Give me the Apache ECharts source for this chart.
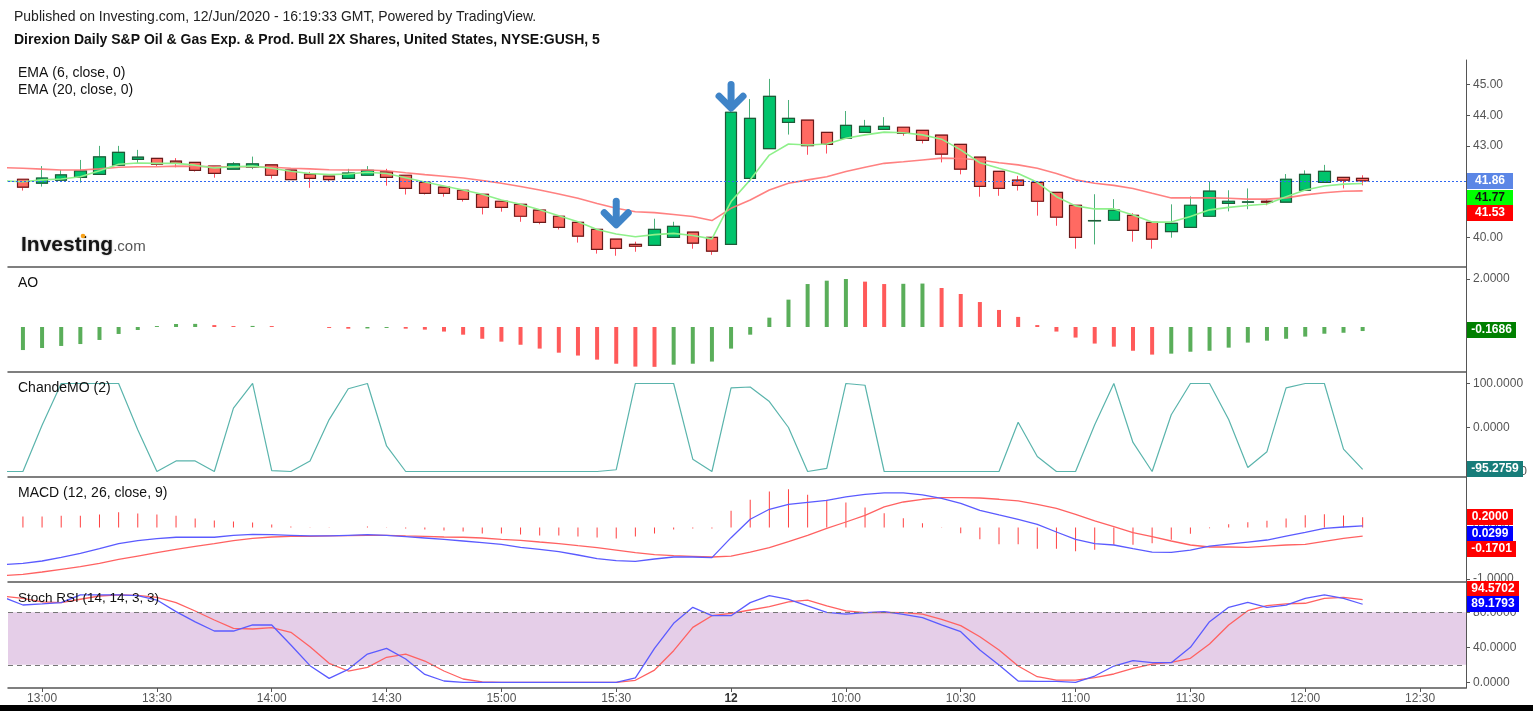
<!DOCTYPE html>
<html><head><meta charset="utf-8">
<script src="https://cdn.jsdelivr.net/npm/echarts@6/dist/echarts.min.js"></script>
<style>html,body{margin:0;padding:0;background:#fff}#c{width:1533px;height:711px}</style>
</head><body><div id="c"></div>
<script>
// ---------- DATA ----------
// bar index 0 = 11 Jun 12:55, 36 = 15:55, 37 = 12 Jun 09:30, 70 = 12:15 (5-minute bars)
const tickIdx    = [1, 7, 13, 19, 25, 31, 37, 43, 49, 55, 61, 67, 73];
const tickLabels = ['13:00','13:30','14:00','14:30','15:00','15:30','12','10:00','10:30','11:00','11:30','12:00','12:30'];

const open  = [41.91,41.78,41.88,41.97,42.07,42.37,42.56,42.59,42.50,42.46,42.34,42.24,42.30,42.38,42.21,42.08,42.01,41.94,42.04,42.15,
               42.04,41.81,41.65,41.55,41.42,41.19,41.09,40.90,40.70,40.50,40.27,39.95,39.78,39.75,40.01,40.18,40.01,39.78,41.94,42.91,
               43.77,43.84,43.44,43.25,43.44,43.54,43.61,43.51,43.35,43.05,42.63,42.17,41.88,41.81,41.48,41.06,40.55,40.57,40.73,40.50,
               40.20,40.34,40.70,41.12,41.16,41.19,41.16,41.55,41.81,41.97,41.94];
const close = [41.65,41.95,42.05,42.18,42.64,42.79,42.63,42.40,42.43,42.20,42.10,42.41,42.41,42.04,41.90,41.94,41.90,42.11,42.20,41.97,
               41.61,41.45,41.45,41.25,40.99,40.99,40.70,40.50,40.34,40.05,39.62,39.65,39.72,40.27,40.37,39.82,39.56,44.10,43.90,44.62,
               43.90,43.01,43.05,43.67,43.64,43.64,43.41,43.18,42.73,42.24,41.68,41.61,41.71,41.19,40.67,40.01,40.56,40.90,40.24,39.95,
               40.47,41.06,41.52,41.19,41.17,41.16,41.91,42.07,42.17,41.88,41.86];
const low   = [41.54,41.67,41.88,41.80,42.07,42.37,42.43,42.34,42.30,42.16,41.96,42.24,42.24,41.93,41.90,41.63,41.83,41.94,42.04,41.70,
               41.41,41.41,41.34,41.18,40.76,40.85,40.52,40.44,40.27,39.84,39.48,39.41,39.54,39.75,40.01,39.64,39.44,39.78,41.94,42.91,
               43.37,42.71,42.75,43.25,43.44,43.54,43.33,43.08,42.46,42.07,41.34,41.37,41.54,40.72,40.39,39.64,39.78,40.57,39.87,39.64,
               40.00,40.34,40.70,40.86,40.93,41.06,41.16,41.55,41.81,41.61,41.71];
const high  = [41.91,42.34,42.21,42.54,43.00,43.00,42.87,42.59,42.60,42.46,42.34,42.47,42.65,42.38,42.21,42.15,42.01,42.25,42.34,42.25,
               42.04,41.81,41.65,41.55,41.42,41.19,41.09,40.90,40.70,40.50,40.27,39.95,39.87,40.62,40.52,40.18,40.01,44.95,44.53,45.19,
               44.50,43.84,43.44,44.14,43.85,43.94,43.61,43.51,43.35,43.05,42.63,42.17,42.02,41.81,41.48,41.06,41.42,41.26,40.80,40.50,
               41.09,41.35,41.83,41.55,41.61,41.25,42.08,42.20,42.38,41.97,42.04];

// indicator lines: first value is bar index -1 (left edge of the plot)
const lineStart = -1;
const ema6  = [41.86,
  41.83,41.89,41.92,41.99,42.19,42.40,42.44,42.43,42.43,42.37,42.28,42.32,42.34,42.27,42.17,42.10,42.06,42.08,42.14,42.10,
  41.96,41.82,41.69,41.56,41.42,41.23,41.09,40.91,40.72,40.52,40.27,40.12,40.03,40.10,40.14,40.07,39.96,41.18,41.89,42.70,
  43.06,43.03,43.06,43.25,43.36,43.45,43.43,43.36,43.22,42.87,42.45,42.27,42.10,41.81,41.34,41.04,40.94,40.94,40.74,40.51,
  40.51,40.69,40.91,40.99,41.05,41.10,41.34,41.56,41.69,41.75,41.77];
const ema20 = [42.29,
  42.27,42.24,42.21,42.21,42.25,42.30,42.32,42.32,42.34,42.33,42.32,42.32,42.32,42.30,42.27,42.25,42.22,42.21,42.21,42.19,
  42.12,42.06,42.01,41.95,41.87,41.78,41.67,41.56,41.43,41.29,41.12,40.96,40.85,40.82,40.76,40.69,40.56,40.96,41.23,41.56,
  41.78,41.89,41.99,42.16,42.30,42.43,42.48,42.54,42.60,42.59,42.54,42.45,42.38,42.27,42.10,41.89,41.78,41.71,41.61,41.45,
  41.30,41.30,41.30,41.29,41.26,41.26,41.30,41.40,41.47,41.52,41.53];
const arrowTips = [[31, 40.31], [37, 44.12]];

const ao = [-0.96,-0.875,-0.79,-0.71,-0.54,-0.29,-0.125,0.04,0.125,0.13,0.08,0.04,0.045,0.04,0.00,0.00,-0.04,-0.07,-0.06,-0.04,
            -0.07,-0.11,-0.19,-0.32,-0.49,-0.61,-0.74,-0.90,-1.07,-1.19,-1.36,-1.53,-1.65,-1.66,-1.57,-1.53,-1.44,-0.90,-0.32,0.39,
            1.14,1.79,1.93,2.00,1.89,1.79,1.80,1.81,1.625,1.375,1.04,0.71,0.42,0.08,-0.19,-0.44,-0.69,-0.82,-0.99,-1.15,
            -1.11,-1.03,-0.99,-0.86,-0.65,-0.57,-0.49,-0.40,-0.28,-0.24,-0.1686];

const chande = [-100,
  -100,5,100,100,100,100,-5,-100,-76,-76,-100,44,100,-98,-100,-76,18,88,100,-42,
  -100,-100,-100,-100,-100,-100,-100,-100,-100,-100,-100,-96,100,100,100,-72,-100,90,92,59,
  0,-100,-93,100,96,-100,-100,-100,-100,-100,-100,-100,12,-66,-100,-100,6,100,-34,-100,
  29,100,100,18,-91,-55,90,100,100,-49,-95.2759];

const macdHist = [0.214,0.214,0.227,0.227,0.253,0.299,0.273,0.253,0.227,0.175,0.136,0.117,0.097,0.058,0.02,0.003,0.006,0.002,0.02,0.003,
  -0.02,-0.04,-0.058,-0.078,-0.117,-0.117,-0.136,-0.156,-0.156,-0.175,-0.195,-0.214,-0.175,-0.117,-0.04,-0.02,-0.02,0.325,0.539,0.70,
  0.747,0.637,0.539,0.487,0.39,0.279,0.182,0.084,0.006,-0.11,-0.227,-0.325,-0.325,-0.416,-0.416,-0.461,-0.435,-0.338,-0.338,-0.305,
  -0.24,-0.123,-0.013,0.065,0.104,0.13,0.175,0.24,0.26,0.234,0.20];
const macdLine = [-0.72,
  -0.70,-0.653,-0.581,-0.503,-0.413,-0.315,-0.257,-0.218,-0.19,-0.19,-0.19,-0.152,-0.133,-0.14,-0.152,-0.165,-0.165,-0.152,-0.14,-0.152,
  -0.179,-0.205,-0.23,-0.263,-0.296,-0.328,-0.386,-0.425,-0.471,-0.536,-0.608,-0.647,-0.659,-0.614,-0.575,-0.575,-0.588,-0.198,0.16,0.355,
  0.452,0.491,0.53,0.595,0.647,0.673,0.673,0.634,0.569,0.472,0.335,0.244,0.16,0.062,-0.088,-0.23,-0.315,-0.341,-0.413,-0.478,
  -0.484,-0.439,-0.361,-0.322,-0.283,-0.244,-0.166,-0.094,-0.016,0.01,0.0299];
const macdSignal = [-0.935,
  -0.913,-0.867,-0.815,-0.764,-0.698,-0.62,-0.556,-0.491,-0.425,-0.366,-0.315,-0.257,-0.211,-0.185,-0.172,-0.172,-0.165,-0.159,-0.152,-0.152,
  -0.165,-0.172,-0.185,-0.19,-0.205,-0.23,-0.25,-0.283,-0.315,-0.355,-0.393,-0.439,-0.491,-0.53,-0.55,-0.562,-0.575,-0.556,-0.478,-0.393,
  -0.277,-0.152,-0.016,0.107,0.238,0.40,0.497,0.55,0.581,0.581,0.575,0.55,0.517,0.452,0.374,0.257,0.127,0.016,-0.101,-0.179,
  -0.263,-0.341,-0.38,-0.38,-0.387,-0.361,-0.341,-0.328,-0.269,-0.211,-0.1701];

const stochK = [97,
  88.3,89.5,91,100,100,100,99,94,80.7,69,58.6,58.6,65.5,65.5,42.6,19,4.5,14.8,32.3,38.8,
  26.6,9,1.5,0,0,0,0,0,0,0,0,0,5,38.8,67.4,85.7,76.1,76.1,91,99,
  94.8,87.2,80,78,79.6,80.7,77.7,73.8,65.5,57.8,36.9,19.8,1.5,1,1,0,7.2,18.6,24.7,22.4,
  22.4,40,69.3,85.7,91.4,85.7,88.3,96,100,96,89.1793];
const stochD = [98.3,
  96,92,91,94.9,98.6,100,99.4,97,91,81.5,71.2,61.7,60.9,62.4,57.1,40.7,21.7,12.9,17.1,28.6,
  32.3,24.3,12.9,3.8,0.5,0,0,0,0,0,0,0,2.3,14,36.1,62.8,76.1,78.8,82.6,86.4,
  91.8,94,87.2,81.5,79.6,80,79.6,78,72,64.7,52.1,36.9,18.6,6.4,2.6,2.6,5.3,9.5,16,20.9,
  22.8,27.4,43.8,65.5,81.8,87.6,89.5,90.3,96,97.1,94.5702];

const priceTicks = [40, 43, 44, 45];
const aoTicks = [2];
const chandeTicks = [100, 0, -100];
const macdTicks = [0, -1];
const stochTicks = [120, 80, 40, 0];
const stochBand = [20, 80];
const lastPrice = 41.86;

// ---------- CHART ----------
const FONT = '"Liberation Sans", Arial, sans-serif';
const GREEN = '#00c46c', RED = '#ff6a62';
const chart = echarts.init(document.getElementById('c'), null, {renderer: 'canvas'});

const pts = arr => arr.map((v, i) => [i + lineStart, v]);
const candles = open.map((o, i) => [i, o, close[i], low[i], high[i]]);
const bodies = open.map((o, i) => [i, o, close[i], Math.min(o, close[i]), Math.max(o, close[i])]);
const aoBars = ao.map((v, i) => ({value: [i, v], itemStyle: {color: (i === 0 || v > ao[i - 1]) ? '#5aae5a' : '#ff5a5a'}}));
const histBars = macdHist.map((v, i) => [i, v]);

const grids = [
  {top: 60, height: 207}, {top: 267, height: 105}, {top: 372, height: 105},
  {top: 477, height: 105}, {top: 582, height: 106}
].map(g => Object.assign({left: 8, right: 67, containLabel: false}, g));

function xAx(g) {
  const last = g === 4;
  return {
    type: 'value', gridIndex: g, min: -0.78, max: 75.4, position: 'bottom',
    splitLine: {show: false},
    axisLine: {show: true, onZero: false, lineStyle: {color: '#555', width: 1.5}},
    axisTick: {show: last, customValues: tickIdx, length: 4, lineStyle: {color: '#555'}},
    axisLabel: {
      show: last, customValues: tickIdx, color: '#555', fontSize: 12, margin: 5, fontFamily: FONT,
      formatter: v => {
        const k = tickIdx.indexOf(Math.round(v));
        const t = k >= 0 ? tickLabels[k] : '';
        return t === '12' ? '{b|12}' : t;
      },
      rich: {b: {fontWeight: 'bold', color: '#333', fontSize: 12, fontFamily: FONT}}
    }
  };
}
function yAx(g, min, max, ticks, dec) {
  return {
    type: 'value', gridIndex: g, position: 'right', min, max,
    splitLine: {show: false},
    axisLine: {show: true, onZero: false, lineStyle: {color: '#555'}},
    axisTick: {show: true, customValues: ticks, length: 4, lineStyle: {color: '#555'}},
    axisLabel: {customValues: ticks, color: '#555', fontSize: 12, margin: 7, fontFamily: FONT,
      formatter: v => v.toFixed(dec)}
  };
}

const option = {
  animation: false,
  backgroundColor: '#fff',
  grid: grids,
  xAxis: [0, 1, 2, 3, 4].map(xAx),
  yAxis: [
    yAx(0, 39.042, 45.807, priceTicks, 2),
    yAx(1, -1.875, 2.5, aoTicks, 4),
    yAx(2, -112.5, 126.1, chandeTicks, 4),
    yAx(3, -1.062, 0.984, macdTicks, 4),
    yAx(4, -6.5, 114.6, stochTicks, 4)
  ],
  series: [
    {type: 'candlestick', xAxisIndex: 0, yAxisIndex: 0, data: candles, barWidth: 12,
      encode: {x: 0, y: [1, 2, 3, 4]},
      itemStyle: {color: GREEN, color0: RED, borderColor: '#4cb07a', borderColor0: '#ff4d5e', borderWidth: 1},
      markLine: {silent: true, symbol: 'none', label: {show: false},
        lineStyle: {color: '#2f66f0', type: [2, 2], width: 1},
        data: [{yAxis: lastPrice}]}
    },
    {type: 'candlestick', xAxisIndex: 0, yAxisIndex: 0, data: bodies, barWidth: 12,
      encode: {x: 0, y: [1, 2, 3, 4]},
      itemStyle: {color: GREEN, color0: RED, borderColor: '#1f5a38', borderColor0: '#6a1b1b', borderWidth: 1.2}
    },
    {type: 'line', xAxisIndex: 0, yAxisIndex: 0, data: pts(ema20), showSymbol: false, symbol: 'none',
      lineStyle: {color: '#ff7373', width: 1.6, opacity: 0.9}},
    {type: 'line', xAxisIndex: 0, yAxisIndex: 0, data: pts(ema6), showSymbol: false, symbol: 'none',
      lineStyle: {color: '#8ef08a', width: 1.6}},
    {type: 'custom', xAxisIndex: 0, yAxisIndex: 0, data: arrowTips, z: 10, silent: true,
      renderItem: (params, api) => {
        const p = api.coord([api.value(0), api.value(1)]);
        const st = {stroke: '#3f84c8', lineWidth: 7, lineCap: 'round', lineJoin: 'round', fill: null};
        return {type: 'group', children: [
          {type: 'polyline', shape: {points: [[p[0], p[1] - 27], [p[0], p[1] - 5]]}, style: st},
          {type: 'polyline', shape: {points: [[p[0] - 12, p[1] - 15.5], [p[0], p[1] - 3.5], [p[0] + 12, p[1] - 15.5]]}, style: st}
        ]};
      }
    },
    {type: 'bar', xAxisIndex: 1, yAxisIndex: 1, data: aoBars, barWidth: 4},
    {type: 'line', xAxisIndex: 2, yAxisIndex: 2, data: pts(chande), showSymbol: false, symbol: 'none',
      lineStyle: {color: '#5ab4ac', width: 1.2}},
    {type: 'bar', xAxisIndex: 3, yAxisIndex: 3, data: histBars, barWidth: 1, itemStyle: {color: '#ff4040'}},
    {type: 'line', xAxisIndex: 3, yAxisIndex: 3, data: pts(macdSignal), showSymbol: false, symbol: 'none',
      lineStyle: {color: '#ff6262', width: 1.3}},
    {type: 'line', xAxisIndex: 3, yAxisIndex: 3, data: pts(macdLine), showSymbol: false, symbol: 'none',
      lineStyle: {color: '#5b5bff', width: 1.3}},
    {type: 'line', xAxisIndex: 4, yAxisIndex: 4, data: pts(stochD), showSymbol: false, symbol: 'none', z: 3,
      lineStyle: {color: '#ff6262', width: 1.3},
      markArea: {silent: true, itemStyle: {color: '#e5cee8'}, data: [[{yAxis: stochBand[0]}, {yAxis: stochBand[1]}]]},
      markLine: {silent: true, symbol: 'none', label: {show: false},
        lineStyle: {color: '#777', type: [5, 4], width: 1},
        data: [{yAxis: stochBand[0]}, {yAxis: stochBand[1]}]}
    },
    {type: 'line', xAxisIndex: 4, yAxisIndex: 4, data: pts(stochK), showSymbol: false, symbol: 'none', z: 4,
      lineStyle: {color: '#5b5bff', width: 1.3}}
  ]
};
chart.setOption(option);

// ---------- texts & right-side value tags ----------
const txt = (x, y, text, font, fill) => ({type: 'text', x, y, z: 100,
  style: {text, font, fill, verticalAlign: 'middle', align: 'left'}});
const elements = [
  txt(14, 17, 'Published on Investing.com, 12/Jun/2020 - 16:19:33 GMT, Powered by TradingView.', '14px ' + FONT, '#222'),
  txt(14, 40, 'Direxion Daily S&P Oil & Gas Exp. & Prod. Bull 2X Shares, United States, NYSE:GUSH, 5', 'bold 14px ' + FONT, '#111'),
  txt(18, 73, 'EMA (6, close, 0)', '14px ' + FONT, '#111'),
  txt(18, 90, 'EMA (20, close, 0)', '14px ' + FONT, '#111'),
  txt(18, 283, 'AO', '14px ' + FONT, '#111'),
  txt(18, 388, 'ChandeMO (2)', '14px ' + FONT, '#111'),
  txt(18, 493, 'MACD (12, 26, close, 9)', '14px ' + FONT, '#111'),
  txt(18, 598, 'Stoch RSI (14, 14, 3, 3)', '13.5px ' + FONT, '#111'),
  {type: 'text', x: 21, y: 245, z: 100, style: {
    text: '{a|Investing}{b|.com}', verticalAlign: 'middle', align: 'left',
    rich: {a: {font: 'bold 21px ' + FONT, fill: '#151515', textShadowColor: 'rgba(0,0,0,0.35)', textShadowBlur: 2},
           b: {font: '15px ' + FONT, fill: '#555', padding: [4, 0, 0, 0]}}}},
  {type: 'circle', z: 101, shape: {cx: 83, cy: 236, r: 2.3}, style: {fill: '#f7a21b'}},
  {type: 'rect', z: 100, shape: {x: 0, y: 705, width: 1533, height: 6}, style: {fill: '#000'}}
];
const tags = [
  {axis: 0, value: lastPrice, text: '41.86', bg: '#5b86e6', fg: '#fff', dy: 0},
  {axis: 0, value: ema6[ema6.length - 1], text: '41.77', bg: '#00ff00', fg: '#111', dy: 14},
  {axis: 0, value: ema20[ema20.length - 1], text: '41.53', bg: '#ff0000', fg: '#fff', dy: 22},
  {axis: 1, value: ao[ao.length - 1], text: '-0.1686', bg: '#008000', fg: '#fff', dy: -1},
  {axis: 2, value: chande[chande.length - 1], text: '-95.2759', bg: '#177d7a', fg: '#fff', dy: 0},
  {axis: 3, value: macdHist[macdHist.length - 1], text: '0.2000', bg: '#ff0000', fg: '#fff', dy: 0},
  {axis: 3, value: macdLine[macdLine.length - 1], text: '0.0299', bg: '#0000ff', fg: '#fff', dy: 8},
  {axis: 3, value: macdSignal[macdSignal.length - 1], text: '-0.1701', bg: '#ff0000', fg: '#fff', dy: 13},
  {axis: 4, value: stochD[stochD.length - 1], text: '94.5702', bg: '#ff0000', fg: '#fff', dy: -11},
  {axis: 4, value: stochK[stochK.length - 1], text: '89.1793', bg: '#0000ff', fg: '#fff', dy: 0}
];
const TAGFONT = 'bold 12px ' + FONT;
const mctx = document.createElement('canvas').getContext('2d');
mctx.font = TAGFONT;
tags.forEach(t => {
  const y = chart.convertToPixel({yAxisIndex: t.axis}, t.value) + t.dy;
  const w = Math.max(46, Math.ceil(mctx.measureText(t.text).width) + 8);
  elements.push({type: 'rect', z: 119, shape: {x: 1467, y: Math.round(y - 8), width: w, height: 16}, style: {fill: t.bg}});
  elements.push({type: 'text', x: 1467 + w / 2, y: Math.round(y - 8) + 8, z: 120, style: {
    text: t.text, font: TAGFONT, fill: t.fg, verticalAlign: 'middle', align: 'center'}});
});
chart.setOption({graphic: {elements}});
</script>
</body></html>
